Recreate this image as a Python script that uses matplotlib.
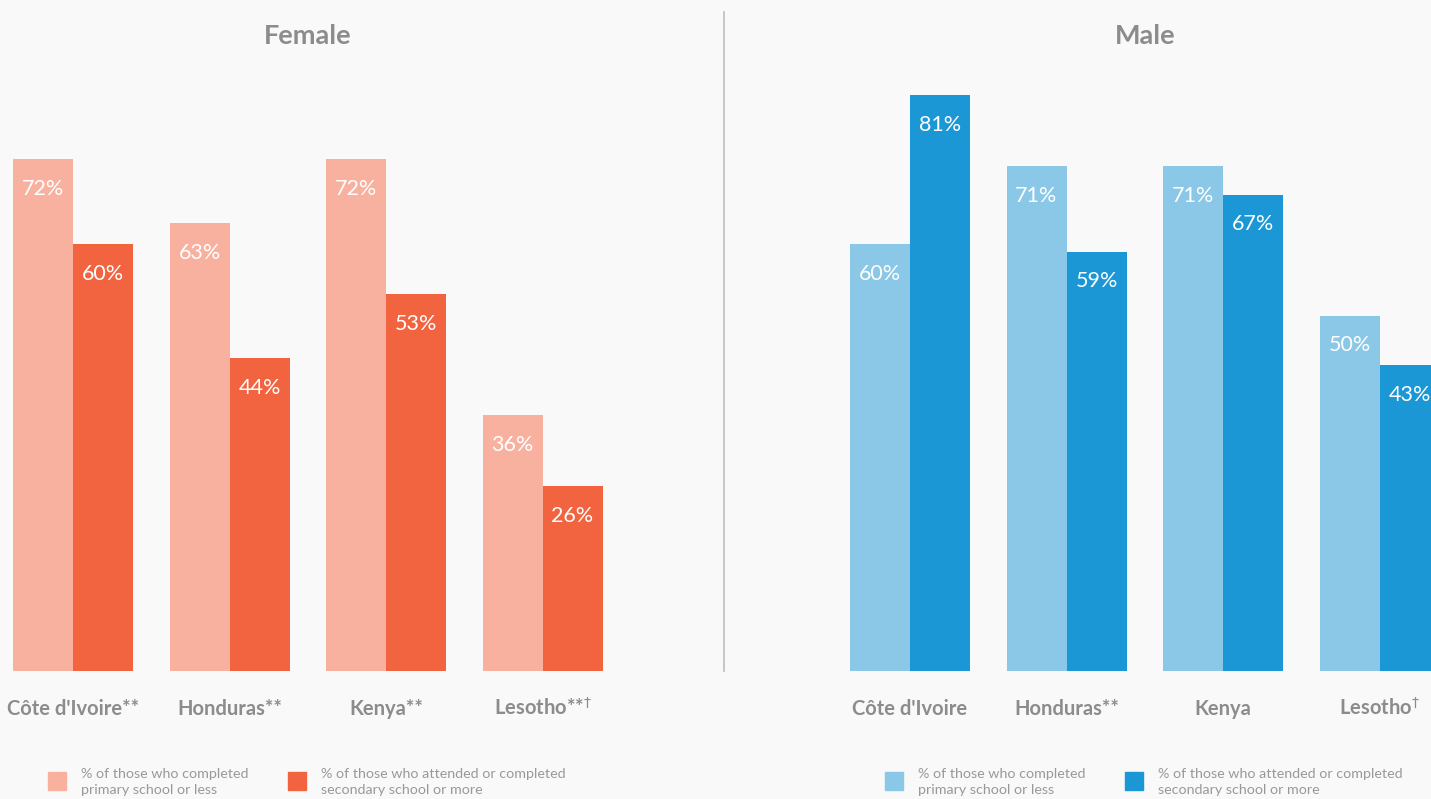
import matplotlib.pyplot as plt
from matplotlib.patches import Rectangle
from matplotlib.lines import Line2D
import numpy as np

plt.rcParams['font.family'] = ['Lato', 'DejaVu Sans']

female_countries = ["Côte d'Ivoire**", "Honduras**", "Kenya**", r"Lesotho**$^{\dagger}$"]
female_primary = [72, 63, 72, 36]
female_secondary = [60, 44, 53, 26]

male_countries = ["Côte d'Ivoire", "Honduras**", "Kenya", r"Lesotho$^{\dagger}$"]
male_primary = [60, 71, 71, 50]
male_secondary = [81, 59, 67, 43]

legend_labels = ["% of those who completed\nprimary school or less",
                 "% of those who attended or completed\nsecondary school or more"]

W, H = 1431, 799
bg = '#f9f9f9'
grey = '#8c8c8c'

fig = plt.figure(figsize=(W / 100, H / 100), dpi=100, facecolor=bg)

# pixel helpers for layout
def fx(x):
    return x / W

def fy(y):
    return 1 - y / H

step = 156.5      # px between group centres
bw = 60 / step    # bar width in data units
ppu = 7.11        # px per percent
ymax = 671 / ppu


def panel(left_px, right_px, first_center_px, title, countries, prim, sec, c_light, c_dark, leg_x):
    ax = fig.add_axes([fx(left_px), fy(671), (right_px - left_px) / W, 671 / H])
    ax.set_facecolor(bg)
    ax.set_xlim(-(first_center_px - left_px) / step, (right_px - first_center_px) / step)
    ax.set_ylim(0, ymax)
    ax.axis('off')
    x = np.arange(len(countries))
    b1 = ax.bar(x - bw / 2, prim, width=bw, color=c_light, clip_on=False)
    b2 = ax.bar(x + bw / 2, sec, width=bw, color=c_dark, clip_on=False)
    for bars, vals in [(b1, prim), (b2, sec)]:
        for rect, v in zip(bars, vals):
            ax.text(rect.get_x() + rect.get_width() / 2, v - 29.5 / ppu, f"{v}%",
                    ha='center', va='center', color='white', fontsize=15.5, clip_on=False)
    for xi, name in zip(x, countries):
        ax.text(xi, -(715 - 671) / ppu, name, ha='center', va='baseline', color=grey,
                fontsize=14.5, fontweight='bold', clip_on=False)
    ax.text(1.5, (671 - 36) / ppu, title, ha='center', va='center', color=grey,
            fontsize=19.5, fontweight='bold')

    # legend
    for i, (col, lab) in enumerate(zip([c_light, c_dark], legend_labels)):
        sx = leg_x + i * 240
        fig.add_artist(Rectangle((fx(sx), fy(790)), 18 / W, 18 / H,
                                 transform=fig.transFigure, color=col))
        fig.text(fx(sx + 33), fy(768), lab, ha='left', va='top', color='#999999',
                 fontsize=10.3, linespacing=1.35)
    return ax


panel(0, 724, 73, "Female", female_countries, female_primary, female_secondary,
      '#f8b19e', '#f26440', 48)
panel(724, 1431, 910, "Male", male_countries, male_primary, male_secondary,
      '#8bc8e8', '#1b97d5', 885)

fig.add_artist(Line2D([fx(724), fx(724)], [fy(12), fy(671)], color='#bdbdbd', lw=1.2))

fig.savefig('out.png', dpi=100, facecolor=bg)
